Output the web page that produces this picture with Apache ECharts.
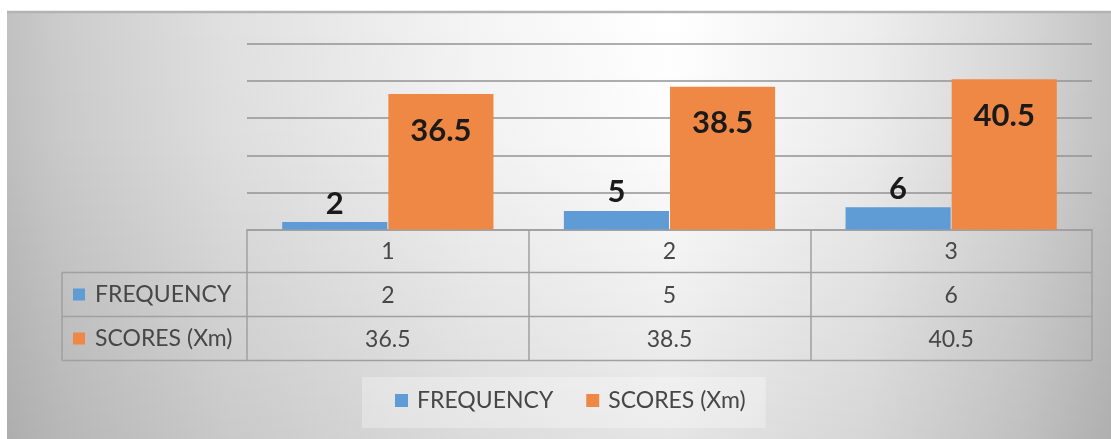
<!DOCTYPE html>
<html>
<head>
<meta charset="utf-8">
<script src="https://cdn.jsdelivr.net/npm/echarts@6/dist/echarts.min.js"></script>
<style>
  html, body { margin: 0; padding: 0; background: #ffffff; }
  #chart { width: 1111px; height: 439px; }
</style>
</head>
<body>
<div id="chart"></div>
<script>
// Class groups and the two measured series
const categories = ['1', '2', '3'];
const frequency = [2, 5, 6];
const scores = [36.5, 38.5, 40.5];
const seriesNames = ['FREQUENCY', 'SCORES (Xm)'];
const seriesColors = ['#5f9bd5', '#ef8845'];

const FONT = 'Lato';
const TEXT_COLOR = '#474747';
const TABLE_LINE = '#a0a0a0';

const chart = echarts.init(document.getElementById('chart'), null, { renderer: 'canvas' });

// Data-table geometry (below the plot area)
const table = { left: 62, right: 1092, top: 229.5, rowH: 44, rows: 3 };
const rowY = i => table.top + table.rowH * i;

const tableGraphics = [];
// horizontal rules for the two series rows
for (let r = 1; r <= table.rows; r++) {
  tableGraphics.push({
    type: 'line', z: 5,
    shape: { x1: table.left, y1: rowY(r) - 1, x2: table.right, y2: rowY(r) - 1 },
    style: { stroke: TABLE_LINE, lineWidth: 1.5 }
  });
}
// left edge of the row-label column
tableGraphics.push({
  type: 'line', z: 5,
  shape: { x1: table.left, y1: rowY(1) - 1, x2: table.left, y2: rowY(3) - 1 },
  style: { stroke: TABLE_LINE, lineWidth: 1.5 }
});
// row labels with colour keys
seriesNames.forEach((name, i) => {
  const cy = (rowY(i + 1) + rowY(i + 2)) / 2 - 1;
  tableGraphics.push({
    type: 'rect', z: 6,
    shape: { x: 73, y: cy - 6, width: 12, height: 12 },
    style: { fill: seriesColors[i] }
  });
  tableGraphics.push({
    type: 'text', z: 6, x: 95, y: cy,
    style: { text: name, font: '23px ' + FONT, fill: TEXT_COLOR, textVerticalAlign: 'middle' }
  });
});

const option = {
  animation: false,
  textStyle: { fontFamily: FONT },
  graphic: [
    // chart-area background with soft grey edges
    {
      type: 'rect', z: -10, silent: true,
      shape: { x: 7, y: 11, width: 1104, height: 428 },
      style: {
        fill: new echarts.graphic.LinearGradient(0, 0, 1, 0, [
          { offset: 0, color: '#c1c1c1' },
          { offset: 0.05, color: '#cccccc' },
          { offset: 0.2, color: '#e0e0e0' },
          { offset: 0.42, color: '#f4f4f4' },
          { offset: 0.6, color: '#ffffff' },
          { offset: 0.78, color: '#eeeeee' },
          { offset: 0.92, color: '#d6d6d6' },
          { offset: 1, color: '#c3c3c3' }
        ])
      }
    },
    {
      type: 'rect', z: -9, silent: true,
      shape: { x: 7, y: 11, width: 1104, height: 428 },
      style: {
        fill: new echarts.graphic.LinearGradient(0, 0, 0, 1, [
          { offset: 0, color: 'rgba(0,0,0,0)' },
          { offset: 0.3, color: 'rgba(0,0,0,0.01)' },
          { offset: 1, color: 'rgba(0,0,0,0.1)' }
        ])
      }
    },
    {
      type: 'line', z: -8, silent: true,
      shape: { x1: 7, y1: 12, x2: 1111, y2: 12 },
      style: { stroke: '#b3b3b3', lineWidth: 2.5 }
    },
    ...tableGraphics
  ],
  legend: {
    data: seriesNames,
    left: 362,
    top: 377,
    orient: 'horizontal',
    backgroundColor: 'rgba(255,255,255,0.3)',
    padding: [12, 20, 16, 33],
    icon: 'rect',
    itemWidth: 13,
    itemHeight: 13,
    itemGap: 33,
    textStyle: { fontFamily: FONT, fontSize: 23, color: TEXT_COLOR, padding: [0, 0, 0, 4] }
  },
  grid: { left: 247, right: 19, top: 44, bottom: 209.5, containLabel: false },
  xAxis: {
    type: 'category',
    data: categories,
    boundaryGap: true,
    axisLine: { show: true, lineStyle: { color: TABLE_LINE, width: 1.5 } },
    axisTick: { show: true, interval: 0, length: 131, lineStyle: { color: TABLE_LINE, width: 1.5 } },
    axisLabel: {
      interval: 0,
      margin: 0,
      fontFamily: FONT,
      fontSize: 23,
      lineHeight: 44,
      color: TEXT_COLOR,
      formatter: (value, idx) => [value, frequency[idx], scores[idx]].join('\n')
    },
    splitLine: { show: false }
  },
  yAxis: {
    type: 'value',
    min: 0,
    max: 50,
    interval: 10,
    axisLabel: { show: false },
    axisLine: { show: false },
    axisTick: { show: false },
    splitLine: { show: true, lineStyle: { color: '#939393', width: 1.5 } }
  },
  series: [
    {
      name: seriesNames[0],
      type: 'bar',
      data: frequency,
      barGap: '1%',
      barCategoryGap: '25%',
      itemStyle: { color: seriesColors[0] },
      label: {
        show: true, position: 'top', distance: 3,
        fontFamily: FONT, fontSize: 31, fontWeight: 'bold', color: '#1a1a1a'
      }
    },
    {
      name: seriesNames[1],
      type: 'bar',
      data: scores,
      barGap: '1%',
      barCategoryGap: '25%',
      itemStyle: { color: seriesColors[1] },
      label: {
        show: true, position: 'insideTop', distance: 21,
        fontFamily: FONT, fontSize: 31, fontWeight: 'bold', color: '#1a1a1a'
      }
    }
  ]
};

chart.setOption(option);
</script>
</body>
</html>
